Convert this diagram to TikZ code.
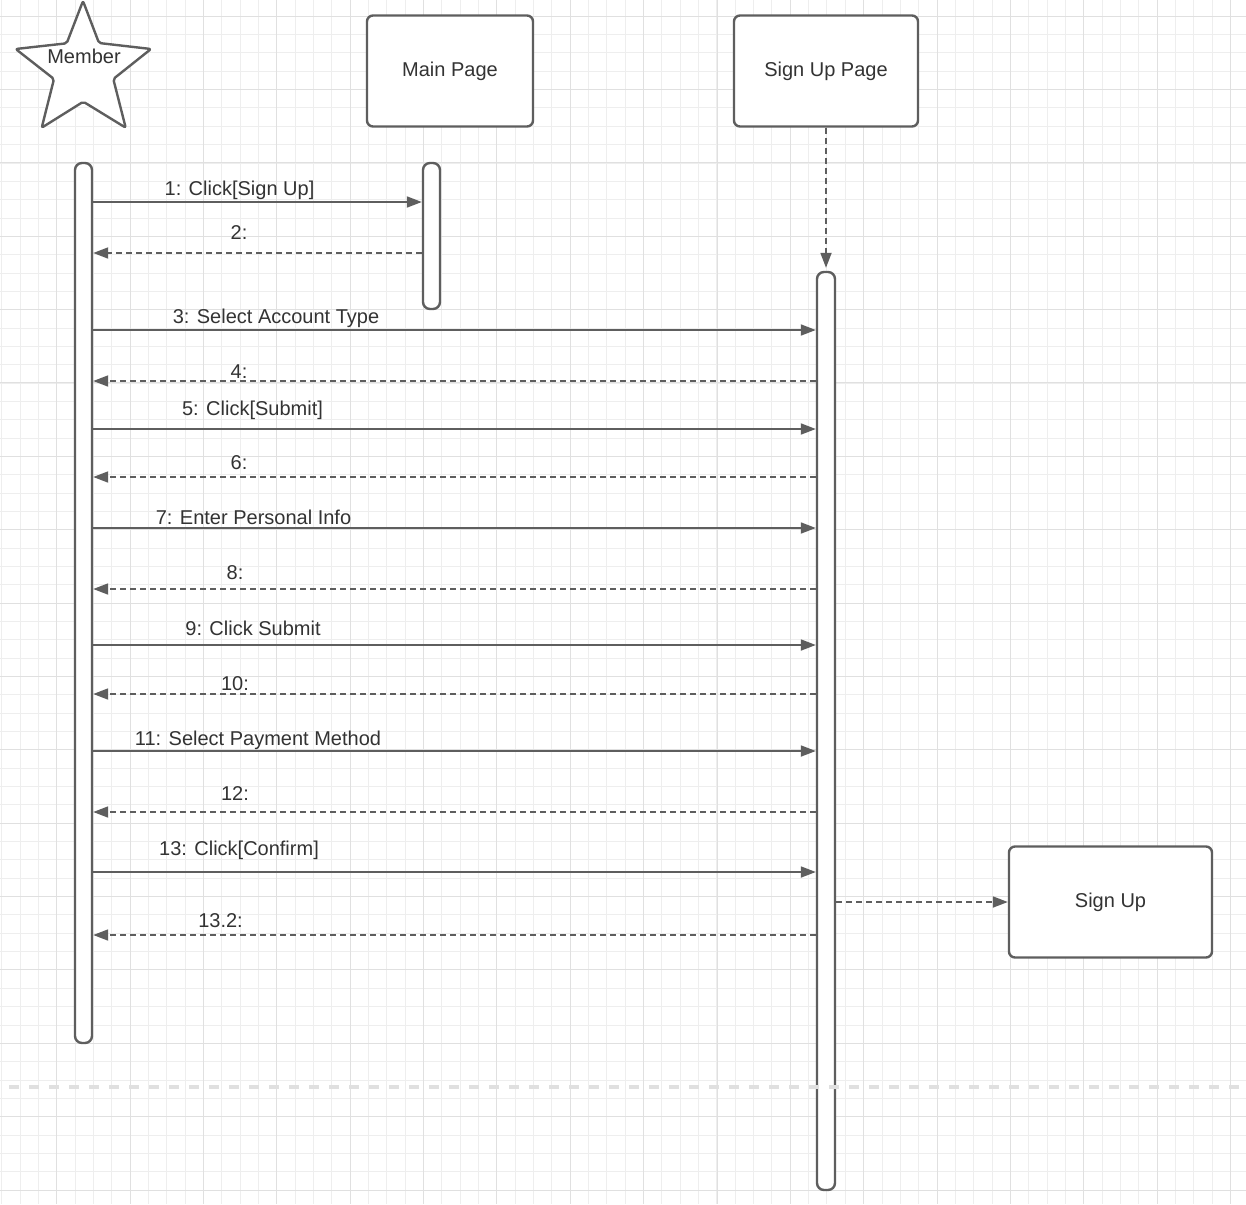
\documentclass[tikz,border=0pt]{standalone}
\usepackage{fontspec}
\setmainfont{Liberation Sans}
\usetikzlibrary{arrows.meta}
\definecolor{ink}{HTML}{5E5E5E}
\definecolor{txt}{HTML}{333333}
\definecolor{gridminor}{HTML}{EEEEEE}
\definecolor{gridmajor}{HTML}{E0E0E0}
\definecolor{sep}{HTML}{E0E0E0}
\begin{document}
\begin{tikzpicture}[x=1pt,y=-1pt,
  font=\fontsize{20}{24}\selectfont, text=txt,
  box/.style={draw=ink, line width=2.4pt, fill=white, rounded corners=6pt,
    inner sep=0pt, text height=14.5pt, text depth=4pt},
  actbar/.style={draw=ink, line width=2.4pt, fill=white, rounded corners=7pt,
    inner sep=0pt},
  tipstyle/.style={-{Triangle[length=15pt,width=11pt]}},
  callmsg/.style={draw=ink, line width=1.8pt, tipstyle},
  retmsg/.style={draw=ink, line width=1.8pt, dash pattern=on 6pt off 4pt, tipstyle},
  lbl/.style={anchor=base, inner sep=0pt}
]
% page and grid
\fill[white] (0,0) rectangle (1246,1204);
\useasboundingbox (0,0) rectangle (1246,1204);
\foreach \i in {0,...,67}
  \draw[gridminor, line width=1pt] ({1.68+18.34*\i},0) -- ({1.68+18.34*\i},1204);
\foreach \i in {0,...,65}
  \draw[gridminor, line width=1pt] (0,{-2.04+18.34*\i}) -- (1246,{-2.04+18.34*\i});
\foreach \i in {1,...,17}
  \draw[gridmajor, line width=1pt] ({-16.7+73.37*\i},0) -- ({-16.7+73.37*\i},1204);
\foreach \i in {0,...,16}
  \draw[gridmajor, line width=1pt] (0,{16.1+73.37*\i}) -- (1246,{16.1+73.37*\i});

% actor
\draw[ink, line width=2.4pt, fill=white, line join=round, rounded corners=2pt]
  (83,1) -- (99,43) -- (151,49) -- (113.3,79) -- (125.7,127.7) -- (83.3,101.7)
  -- (41.7,127.7) -- (54,79) -- (15.7,49) -- (66.7,43.3) -- cycle;
\node[lbl] (member) at (84,63.8) {Member};

% participants
\node[box, minimum width=166pt, minimum height=111pt] (main) at (450,71) {Main Page};
\node[box, minimum width=184pt, minimum height=111pt] (sup) at (826,71) {Sign Up Page};
\node[box, minimum width=203pt, minimum height=111pt] (signup) at (1110.5,902) {Sign Up};

% activation bars
\node[actbar, minimum width=17pt, minimum height=880pt] (memact) at (83.5,603) {};
\node[actbar, minimum width=17pt, minimum height=146pt] (mainact) at (431.5,236) {};
\node[actbar, minimum width=18pt, minimum height=918pt] (supact) at (826,731) {};

% creation of the sign up page lifeline
\draw[retmsg, shorten >=3pt] (sup.south) -- (supact.north);

% messages
\draw[callmsg] (memact.east |- 0,202) -- (mainact.west |- 0,202);
\node[lbl] (l1) at (239.5,195.5) {1: Click[Sign Up]};
\draw[retmsg] (mainact.west |- 0,253) -- (memact.east |- 0,253);
\node[lbl] (l2) at (239,239.8) {2:};

\draw[callmsg] (memact.east |- 0,330) -- (supact.west |- 0,330);
\node[lbl] (l3) at (276,323.2) {3: Select Account Type};
\draw[retmsg] (supact.west |- 0,381) -- (memact.east |- 0,381);
\node[lbl] (l4) at (239,378) {4:};

\draw[callmsg] (memact.east |- 0,429) -- (supact.west |- 0,429);
\node[lbl] (l5) at (252.5,415.5) {5: Click[Submit]};
\draw[retmsg] (supact.west |- 0,477) -- (memact.east |- 0,477);
\node[lbl] (l6) at (239,469.5) {6:};

\draw[callmsg] (memact.east |- 0,528) -- (supact.west |- 0,528);
\node[lbl] (l7) at (253.5,524.5) {7: Enter Personal Info};
\draw[retmsg] (supact.west |- 0,589) -- (memact.east |- 0,589);
\node[lbl] (l8) at (235,579.5) {8:};

\draw[callmsg] (memact.east |- 0,645) -- (supact.west |- 0,645);
\node[lbl] (l9) at (253,635.5) {9: Click Submit};
\draw[retmsg] (supact.west |- 0,694) -- (memact.east |- 0,694);
\node[lbl] (l10) at (235,690.5) {10:};

\draw[callmsg] (memact.east |- 0,751) -- (supact.west |- 0,751);
\node[lbl] (l11) at (258,745.5) {11: Select Payment Method};
\draw[retmsg] (supact.west |- 0,812) -- (memact.east |- 0,812);
\node[lbl] (l12) at (235,800.5) {12:};

\draw[callmsg] (memact.east |- 0,872) -- (supact.west |- 0,872);
\node[lbl] (l13) at (239,855.5) {13: Click[Confirm]};
\draw[retmsg] (supact.west |- 0,935) -- (memact.east |- 0,935);
\node[lbl] (l132) at (220.5,927.8) {13.2:};

% call to the sign up use case
\draw[retmsg] (supact.east |- signup.west) -- (signup.west);

% page separator
\draw[sep, line width=3.5pt, dash pattern=on 10pt off 10pt] (9,1087) -- (1240,1087);
\end{tikzpicture}
\end{document}
